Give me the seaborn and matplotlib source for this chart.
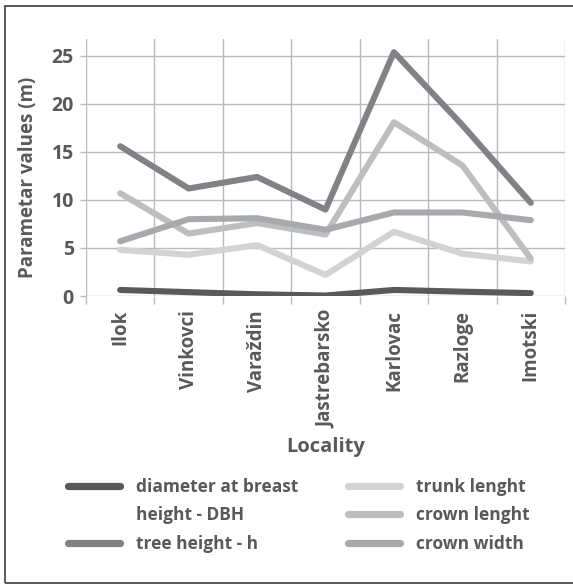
import matplotlib
matplotlib.use("Agg")
import matplotlib.pyplot as plt
from matplotlib.lines import Line2D
from matplotlib.patches import Rectangle
from matplotlib.ticker import FixedLocator
import numpy as np
import pandas as pd
import seaborn as sns

localities = ["Ilok", "Vinkovci", "Varaždin", "Jastrebarsko", "Karlovac", "Razloge", "Imotski"]
dbh = [0.63, 0.40, 0.18, 0.05, 0.63, 0.45, 0.30]
tree_height = [15.6, 11.2, 12.4, 9.0, 25.4, 17.8, 9.7]
trunk_length = [4.8, 4.3, 5.3, 2.2, 6.7, 4.4, 3.6]
crown_length = [10.7, 6.5, 7.6, 6.4, 18.1, 13.6, 3.9]
crown_width = [5.7, 8.0, 8.1, 6.9, 8.7, 8.7, 7.9]

series_names = ["diameter at breast height - DBH", "tree height - h", "trunk lenght",
                "crown lenght", "crown width"]
series_values = [dbh, tree_height, trunk_length, crown_length, crown_width]
colors = ["#58595b", "#808285", "#d1d3d4", "#bcbec0", "#a7a9ac"]
y_ticks = [0, 5, 10, 15, 20, 25]

rows = []
for name, vals in zip(series_names, series_values):
    for i, v in enumerate(vals):
        rows.append({"pos": i, "Locality": localities[i], "param": name, "value": v})
df = pd.DataFrame(rows)

sns.set_theme(style="white")
plt.rcParams["font.family"] = ["Open Sans", "DejaVu Sans"]

text_col = "#58595b"
grid_col = "#b9babc"

fig = plt.figure(figsize=(5.73, 5.85), dpi=100)
ax = fig.add_axes([86 / 573, 1 - 296 / 585, (565 - 86) / 573, (296 - 39) / 585])

sns.lineplot(data=df, x="pos", y="value", hue="param", hue_order=series_names,
             palette=colors, linewidth=4.4, legend=False, sort=False, ax=ax)
for ln in ax.lines:
    ln.set_solid_capstyle("round")
    ln.set_solid_joinstyle("round")

n = len(localities)
ax.set_xlim(-0.5, n - 0.5)
ax.set_ylim(0, 26.77)
ax.set_xticks(range(n))
ax.set_xticklabels(localities, rotation=90, va="top", ha="center")
ax.xaxis.set_minor_locator(FixedLocator(np.arange(-0.5, n, 1.0)))
ax.set_yticks(y_ticks)

for s in ax.spines.values():
    s.set_visible(False)

ax.grid(False)
ax.xaxis.grid(True, which="minor", color=grid_col, linewidth=1.0)
ax.yaxis.grid(True, which="major", color=grid_col, linewidth=1.0)
ax.set_axisbelow(True)

ax.tick_params(axis="x", which="major", length=0, pad=10, labelsize=13.5, labelcolor=text_col)
ax.tick_params(axis="x", which="minor", bottom=True, length=6, width=1.0, color=grid_col, direction="out")
ax.tick_params(axis="y", which="major", left=True, length=4.5, width=1.0, color=grid_col,
               pad=4.3, labelsize=14, labelcolor=text_col)
for lab in ax.get_xticklabels() + ax.get_yticklabels():
    lab.set_fontweight("bold")

ax.set_xlabel("Locality", fontsize=14.5, fontweight="bold", color=text_col, va="top")
ax.xaxis.set_label_coords(0.5, (296 - 437) / 257)
ax.set_ylabel("Parametar values (m)", fontsize=13.5, fontweight="bold", color=text_col)
ax.yaxis.set_label_coords((38 - 86) / 479, (296 - 177) / 257)

# legend
lines = ax.lines
blank = Line2D([], [], color="none", linewidth=0)
handles = [lines[0], blank, lines[1], lines[2], lines[3], lines[4]]
labels = ["diameter at breast", "height - DBH", "tree height - h",
          "trunk lenght", "crown lenght", "crown width"]
leg_handles = []
for h in handles:
    if h is blank:
        leg_handles.append(h)
    else:
        leg_handles.append(Line2D([], [], color=h.get_color(), linewidth=5.2,
                                  solid_capstyle="round"))
fs = 12.5
fpx = fs * 100 / 72
leg = fig.legend(leg_handles, labels, ncol=2, loc="upper left",
                 bbox_to_anchor=(68 / 573, 1 - 478 / 585), frameon=False,
                 handlelength=52 / fpx, handletextpad=16 / fpx,
                 columnspacing=50 / fpx, labelspacing=0.6, borderpad=0,
                 borderaxespad=0, prop={"weight": "bold", "size": fs})
for t in leg.get_texts():
    t.set_color(text_col)

fig.patches.append(Rectangle((5 / 573, 2 / 585), 1.0, 1 - 7.7 / 585, transform=fig.transFigure,
                             fill=False, edgecolor="#3c3c3c", linewidth=1.2, clip_on=False))

fig.savefig("out.png", dpi=100)
